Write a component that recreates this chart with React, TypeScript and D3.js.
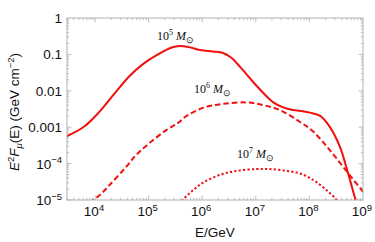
import React from 'react';
import * as d3 from 'd3';

// values, as log10(E/GeV) and log10(E^2 F)
const logE5 = [3.47, 3.8, 4.08, 4.35, 4.64, 4.9, 5.15, 5.43, 5.58, 5.75, 5.96, 6.2, 6.39, 6.55, 6.71, 6.87, 7.03, 7.2, 7.32, 7.5, 7.69, 7.88, 8.01, 8.2, 8.38, 8.57, 8.72, 8.81, 8.9];
const logF5 = [-3.25, -2.98, -2.58, -2.1, -1.6, -1.26, -1.02, -0.81, -0.77, -0.8, -0.88, -0.92, -0.96, -1.1, -1.35, -1.62, -1.89, -2.15, -2.31, -2.45, -2.53, -2.56, -2.6, -2.69, -2.99, -3.54, -4.26, -4.73, -5.2];

const logE6 = [3.9, 4.1, 4.27, 4.58, 4.77, 5.02, 5.33, 5.55, 5.7, 6.01, 6.38, 6.83, 7.13, 7.45, 7.82, 8.07, 8.38, 8.7, 9.0];
const logF6 = [-5.08, -4.85, -4.59, -4.09, -3.76, -3.43, -3.08, -2.88, -2.7, -2.47, -2.36, -2.32, -2.39, -2.53, -2.85, -3.12, -3.63, -4.22, -4.77];

const logE7 = [5.55, 5.64, 5.83, 6.01, 6.33, 6.64, 7.01, 7.26, 7.57, 7.82, 8.07, 8.32, 8.51, 8.6];
const logF7 = [-5.25, -5.0, -4.73, -4.53, -4.31, -4.2, -4.15, -4.15, -4.2, -4.27, -4.45, -4.73, -5.0, -5.2];

const xTickExp = [4, 5, 6, 7, 8, 9];
const yTickVals = [1, 0.1, 0.01, 0.001, 1e-4, 1e-5];
const yTickText = ['1', '0.1', '0.01', '0.001', '10|−4', '10|−5'];
const seriesMass = ['5', '6', '7'];

const W = 375;
const H = 242;
const L = 67, R = 363, T = 18, B = 200;
const RED = '#f01010';
const FRAME = '#b0b0b0';

export default function App() {
  const x = d3.scaleLog().domain([3000, 1e9]).range([L, R]);
  const y = d3.scaleLog().domain([1e-5, 1]).range([B, T]);

  const mk = (le: number[], lf: number[]) =>
    d3.line<number>()
      .x((_, i) => x(Math.pow(10, le[i])))
      .y((v) => y(Math.pow(10, v)))
      .curve(d3.curveCatmullRom.alpha(0.5))(lf) || '';

  const series = [
    { d: mk(logE5, logF5), dash: undefined },
    { d: mk(logE6, logF6), dash: '5.5 3' },
    { d: mk(logE7, logF7), dash: '2.2 2.2' },
  ];

  // minor ticks
  const xMinor: number[] = [];
  for (let e = 3; e <= 8; e++) for (let k = 1; k <= 9; k++) {
    const v = k * Math.pow(10, e);
    if (v >= 3000 && v <= 1e9) xMinor.push(v);
  }
  const yMinor: number[] = [];
  for (let e = -5; e <= -1; e++) for (let k = 1; k <= 9; k++) yMinor.push(k * Math.pow(10, e));

  const labels = [
    { x: 157, y: 40 },
    { x: 194, y: 93 },
    { x: 237, y: 158 },
  ];

  const sans = 'Liberation Sans, Arial, sans-serif';
  const serif = 'Liberation Serif, Times New Roman, serif';

  return (
    <div style={{ position: 'fixed', left: 0, top: 0 }}>
      <svg width={W} height={H} style={{ display: 'block', background: '#fff' }}>
        <defs>
          <clipPath id="plot">
            <rect x={L} y={T} width={R - L} height={B - T} />
          </clipPath>
        </defs>
        {/* ticks */}
        <g stroke={FRAME} strokeWidth={0.8}>
          {xMinor.map((v, i) => {
            const major = Math.abs(Math.log10(v) - Math.round(Math.log10(v))) < 1e-9;
            const len = major ? 4.5 : 2.2;
            return (
              <g key={'xm' + i}>
                <line x1={x(v)} x2={x(v)} y1={B} y2={B - len} />
                <line x1={x(v)} x2={x(v)} y1={T} y2={T + len} />
              </g>
            );
          })}
          {yMinor.map((v, i) => {
            const major = Math.abs(Math.log10(v) - Math.round(Math.log10(v))) < 1e-9;
            const len = major ? 4.5 : 2.2;
            return (
              <g key={'ym' + i}>
                <line x1={L} x2={L + len} y1={y(v)} y2={y(v)} />
                <line x1={R} x2={R - len} y1={y(v)} y2={y(v)} />
              </g>
            );
          })}
        </g>
        <g clipPath="url(#plot)">
          {series.map((s, i) => (
            <path key={i} d={s.d} fill="none" stroke={RED} strokeWidth={2} strokeDasharray={s.dash} />
          ))}
        </g>
        <rect x={L} y={T} width={R - L} height={B - T} fill="none" stroke={FRAME} strokeWidth={1} />

        {/* tick labels */}
        <g fontFamily={sans} fontSize={13.5} fill="#111">
          {xTickExp.map((e) => (
            <text key={e} x={x(Math.pow(10, e)) - 1} y={216} textAnchor="middle">
              10<tspan dy={-5.5} fontSize={9.5}>{e}</tspan>
            </text>
          ))}
          {yTickVals.map((v, i) => {
            const parts = yTickText[i].split('|');
            return (
              <text key={i} x={62} y={y(v) + 5} textAnchor="end">
                {parts[0]}
                {parts[1] ? <tspan dy={-5.5} fontSize={9.5}>{parts[1]}</tspan> : null}
              </text>
            );
          })}
        </g>

        {/* axis labels */}
        <text x={215} y={237} textAnchor="middle" fontFamily={sans} fontSize={13.5} fill="#111">E/GeV</text>
        <text transform="translate(19,112) rotate(-90)" textAnchor="middle" fontFamily={sans} fontSize={13.5} fill="#111">
          <tspan fontStyle="italic">E</tspan>
          <tspan dy={-5} fontSize={9.5}>2</tspan>
          <tspan dy={5} fontStyle="italic">F</tspan>
          <tspan dy={3} fontSize={9.5} fontStyle="italic">μ</tspan>
          <tspan dy={-3}>(E) (GeV cm</tspan>
          <tspan dy={-5} fontSize={9.5}>−2</tspan>
          <tspan dy={5}>)</tspan>
        </text>

        {/* curve labels */}
        <g fontFamily={serif} fontSize={12} fill="#111">
          {labels.map((p, i) => (
            <text key={i} x={p.x} y={p.y}>
              10<tspan dy={-5} fontSize={8}>{seriesMass[i]}</tspan>
              <tspan dy={5}> </tspan>
              <tspan fontStyle="italic">M</tspan>
              <tspan dy={3} fontSize={9}>⊙</tspan>
            </text>
          ))}
        </g>
      </svg>
    </div>
  );
}
